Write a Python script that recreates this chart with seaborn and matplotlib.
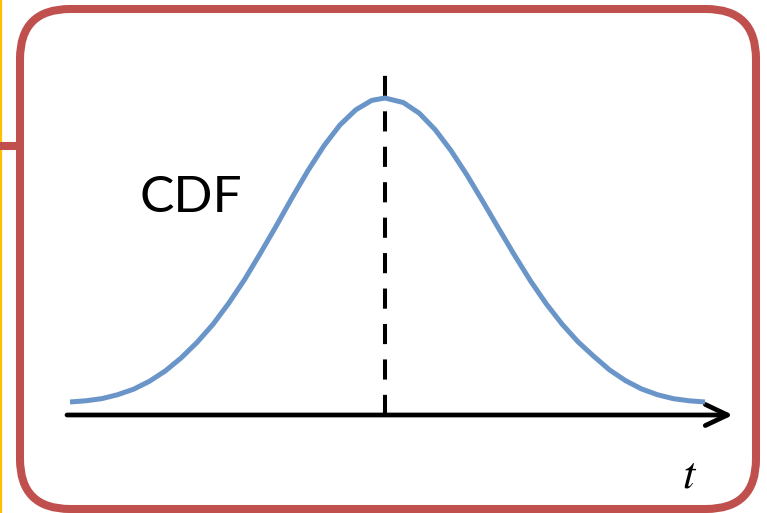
import numpy as np
import pandas as pd
import seaborn as sns
import matplotlib.pyplot as plt
from matplotlib.patches import FancyBboxPatch

# bell curve (t from 0 to 10, height from 0 to 1)
curve_t = [0.0, 0.25, 0.5, 0.75, 1.0, 1.25, 1.5, 1.75, 2.0, 2.25, 2.5, 2.75,
           3.0, 3.25, 3.5, 3.75, 4.0, 4.25, 4.5, 4.75, 4.96,
           5.25, 5.5, 5.75, 6.0, 6.25, 6.5, 6.75, 7.0, 7.25, 7.5, 7.75,
           8.0, 8.25, 8.5, 8.75, 9.0, 9.25, 9.5, 9.75, 10.0]
curve_f = [0.0, 0.004, 0.011, 0.024, 0.042, 0.068, 0.102, 0.145, 0.196, 0.255, 0.325, 0.403,
           0.490, 0.580, 0.673, 0.762, 0.843, 0.911, 0.961, 0.992, 1.0,
           0.985, 0.950, 0.896, 0.827, 0.747, 0.660, 0.571, 0.483, 0.399, 0.323, 0.256,
           0.198, 0.150, 0.105, 0.070, 0.043, 0.024, 0.011, 0.004, 0.0]
curve_label = "CDF"
axis_label = "$t$"

RED = "#C0504D"
BLUE = "#6995C8"
YELLOW = "#FFC000"

if __name__ == "__main__":
    sns.set_theme(style="white")
    plt.rcParams['font.family'] = ['Lato', 'DejaVu Sans']
    plt.rcParams['mathtext.fontset'] = 'stix'

    W, H = 767, 513
    fig = plt.figure(figsize=(W / 100, H / 100), dpi=100)

    # pixel-space layer for the frame, axis arrow and labels
    deco = fig.add_axes([0, 0, 1, 1])
    deco.set_xlim(0, W)
    deco.set_ylim(H, 0)
    deco.axis('off')

    deco.plot([1, 1], [0, H], color=YELLOW, lw=1.6, solid_capstyle='butt')
    deco.plot([0, 18], [146, 146], color=RED, lw=5.8, solid_capstyle='butt')
    frame = FancyBboxPatch((20 + 50, 9 + 50), 736 - 100, 500 - 100,
                           boxstyle="round,pad=50", fc='none', ec=RED, lw=5.8)
    deco.add_patch(frame)

    deco.annotate('', xy=(733, 415), xytext=(67, 415),
                  arrowprops=dict(arrowstyle='->,head_length=0.8,head_width=0.38',
                                  lw=3.4, color='black', mutation_scale=20,
                                  shrinkA=0, shrinkB=0, capstyle='round'))
    deco.text(139, 212, curve_label, fontsize=37, color='black', ha='left', va='baseline')
    deco.text(690, 487, axis_label, fontsize=32, color='black', ha='center', va='baseline')

    # data layer: t in [0, 10] maps to pixels 70..705, f in [0, 1] to pixels 402..98
    ax = fig.add_axes([0, 0, 1, 1], facecolor='none')
    sx = 63.5
    sy = 304.0
    ax.set_xlim(-70 / sx, (W - 70) / sx)
    ax.set_ylim((402 - H) / sy, 402 / sy)
    ax.axis('off')

    df = pd.DataFrame({'t': curve_t, 'f': curve_f})
    sns.lineplot(data=df, x='t', y='f', ax=ax, sort=False, estimator=None,
                 color=BLUE, lw=3.6, solid_joinstyle='round', solid_capstyle='butt')

    peak_t = df.loc[df['f'].idxmax(), 't']
    ax.plot([peak_t, peak_t], [-0.043, 1.092], color='black', lw=2.9,
            dashes=(5.0, 3.8), dash_capstyle='butt', zorder=1)

    fig.savefig('out.png', dpi=100)
